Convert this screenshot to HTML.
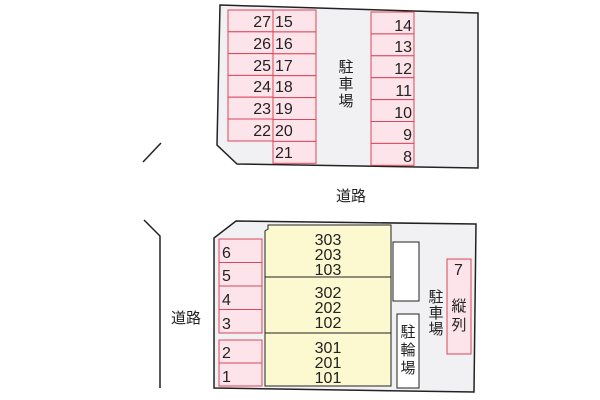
<!DOCTYPE html>
<html><head><meta charset="utf-8"><style>
html,body{margin:0;padding:0;background:#fff;width:600px;height:400px;overflow:hidden}
text{font-family:"Liberation Sans","Noto Sans CJK JP",sans-serif;fill:#222}
</style></head><body>
<svg width="600" height="400" viewBox="0 0 600 400" xmlns="http://www.w3.org/2000/svg">
<g stroke="#222" stroke-width="1.5" fill="none">
<line x1="143" y1="162" x2="161" y2="143"/>
<polyline points="144,220 160,236 160,388"/>
</g>
<polygon points="220,5 478,13 478,168 237,164 217,145" fill="#f1f1f3" stroke="#222" stroke-width="1.5"/>
<polygon points="236,221 476,224 474,392 214,388 214,238" fill="#f1f1f3" stroke="#222" stroke-width="1.5"/>
<g fill="#fde3ea" stroke="#d9475c" stroke-width="1">
<rect x="228" y="10" width="45" height="21.8"/><rect x="228" y="31.8" width="45" height="21.8"/>
<rect x="228" y="53.6" width="45" height="21.8"/><rect x="228" y="75.4" width="45" height="21.8"/>
<rect x="228" y="97.2" width="45" height="21.8"/><rect x="228" y="119" width="45" height="22"/>
<rect x="273" y="10" width="43" height="21.9"/><rect x="273" y="31.9" width="43" height="21.9"/>
<rect x="273" y="53.8" width="43" height="21.9"/><rect x="273" y="75.7" width="43" height="21.9"/>
<rect x="273" y="97.6" width="43" height="21.9"/><rect x="273" y="119.5" width="43" height="21.9"/>
<rect x="273" y="141.4" width="43" height="21.9"/>
<rect x="371" y="12" width="43" height="21.9"/><rect x="371" y="33.9" width="43" height="21.9"/>
<rect x="371" y="55.8" width="43" height="21.9"/><rect x="371" y="77.7" width="43" height="21.9"/>
<rect x="371" y="99.6" width="43" height="21.9"/><rect x="371" y="121.5" width="43" height="21.9"/>
<rect x="371" y="143.4" width="43" height="21.9"/>
<rect x="219" y="239" width="43" height="23.5"/><rect x="219" y="262.5" width="43" height="23.5"/>
<rect x="219" y="286" width="43" height="23.5"/><rect x="219" y="309.5" width="43" height="23.5"/>
<rect x="219" y="340" width="43" height="23"/><rect x="219" y="363" width="43" height="23"/>
<rect x="447" y="259" width="24" height="95"/>
</g>
<polygon points="268,225 391,225 391,386 265,386 265,231 268,229" fill="#fcf8cf" stroke="#222" stroke-width="1"/>
<line x1="265" y1="277" x2="391" y2="277" stroke="#222"/>
<line x1="265" y1="333" x2="391" y2="333" stroke="#222"/>
<rect x="393" y="242" width="26" height="59" fill="#fff" stroke="#222"/>
<rect x="397" y="314" width="22" height="74" fill="#fff" stroke="#222"/>
<g font-size="16">
<g text-anchor="end">
<text x="271" y="27">27</text><text x="271" y="49">26</text><text x="271" y="71">25</text>
<text x="271" y="92">24</text><text x="271" y="114">23</text><text x="271" y="136">22</text>
<text x="412" y="31">14</text><text x="412" y="52">13</text><text x="412" y="74">12</text>
<text x="412" y="96">11</text><text x="412" y="118">10</text><text x="412" y="140">9</text><text x="412" y="162">8</text>
</g>
<text x="275" y="27">15</text><text x="275" y="49">16</text><text x="275" y="71">17</text>
<text x="275" y="92">18</text><text x="275" y="114">19</text><text x="275" y="136">20</text><text x="275" y="158">21</text>
<text x="222" y="258">6</text><text x="222" y="281">5</text><text x="222" y="305">4</text><text x="222" y="329">3</text>
<text x="222" y="358">2</text><text x="222" y="382">1</text>
<text x="454" y="275">7</text>
</g>
<g font-size="16" text-anchor="middle">
<text x="328" y="245">303</text><text x="328" y="260">203</text><text x="328" y="275">103</text>
<text x="328" y="298">302</text><text x="328" y="313">202</text><text x="328" y="328">102</text>
<text x="328" y="353">301</text><text x="328" y="368">201</text><text x="328" y="383">101</text>
</g>
<g font-size="15" text-anchor="middle">
<text x="346" y="72">駐</text><text x="346" y="89">車</text><text x="346" y="106">場</text>
<text x="351" y="201">道路</text>
<text x="186" y="323">道路</text>
<text x="408" y="337">駐</text><text x="408" y="355">輪</text><text x="408" y="373">場</text>
<text x="436" y="302">駐</text><text x="436" y="318">車</text><text x="436" y="334">場</text>
<text x="459" y="311">縦</text><text x="459" y="330">列</text>
</g>
</svg>
</body></html>
